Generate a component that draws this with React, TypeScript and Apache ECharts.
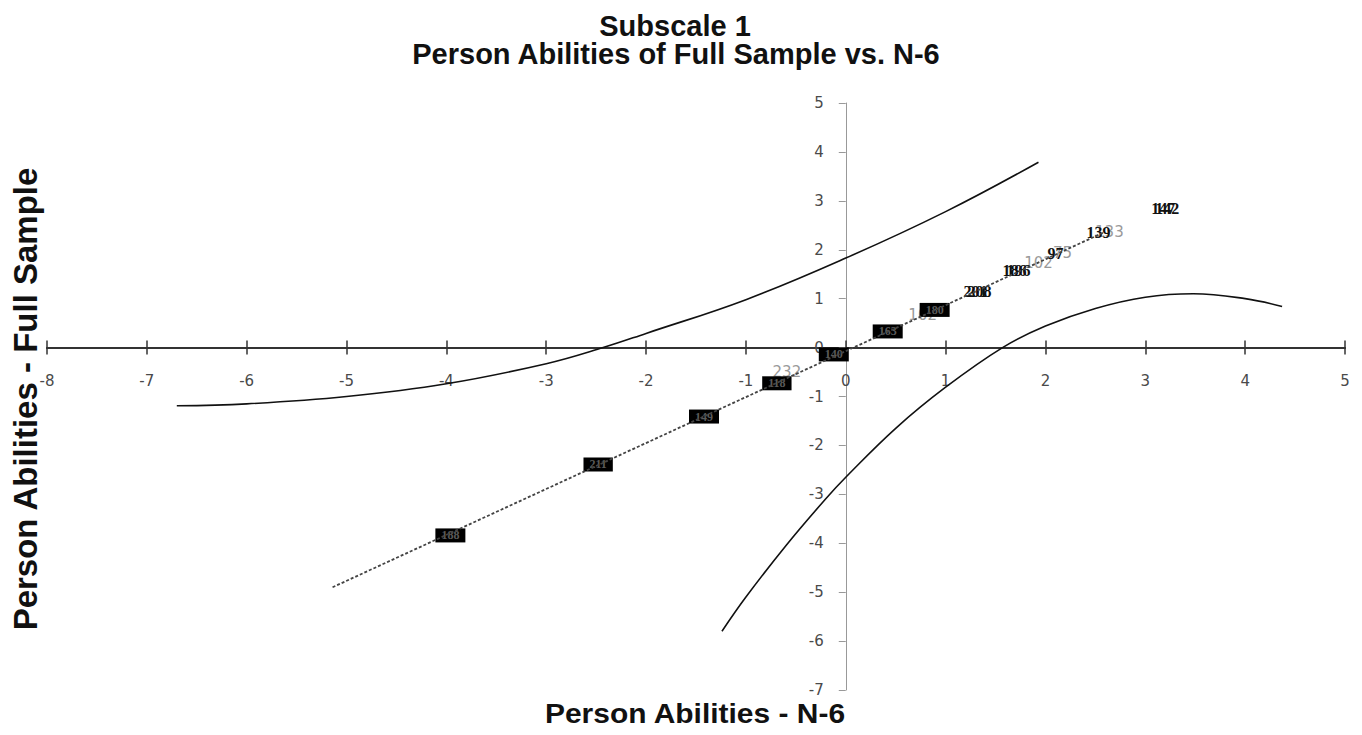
import React, { useEffect, useRef } from "react";
import * as echarts from "echarts";

// Axis ranges
const xMin = -8;
const xMax = 5;
const yMin = -7;
const yMax = 5;

// Upper confidence curve
const upperX = [-6.7, -6, -5, -4, -3, -2.43, -2, -1, 0, 1, 1.93];
const upperY = [-1.19, -1.15, -1.0, -0.74, -0.33, 0, 0.29, 0.98, 1.83, 2.78, 3.79];

// Lower confidence curve
const lowerX = [-1.24, -1, -0.6, -0.2, 0, 0.5, 1, 1.57, 2, 2.5, 3, 3.48, 4, 4.37];
const lowerY = [-5.8, -5.1, -4.05, -3.09, -2.65, -1.65, -0.81, 0, 0.44, 0.8, 1.03, 1.1, 1.0, 0.84];

// Dotted line
const refX = [-5.14, 2.59];
const refY = [-4.9, 2.36];

// Heavily overlapping label clusters (render as dark blobs)
const blobX = [-3.96, -2.48, -1.42, -0.69, -0.12, 0.42, 0.89];
const blobY = [-3.84, -2.39, -1.41, -0.73, -0.14, 0.33, 0.77];
const blobIds = ["188", "211", "149", "118", "140", "163", "180"];

// Bold overlapping labels
const boldX = [1.3, 1.34, 1.69, 1.73, 2.1, 2.53, 3.18, 3.22];
const boldY = [1.15, 1.15, 1.57, 1.57, 1.93, 2.36, 2.85, 2.85];
const boldIds = ["201", "208", "186", "196", "97", "139", "147", "142"];

// Light grey labels
const grayX = [-0.59, 0.77, 1.93, 2.17, 2.64];
const grayY = [-0.49, 0.67, 1.73, 1.93, 2.36];
const grayIds = ["232", "102", "102", "75", "133"];

const zip = (xs: number[], ys: number[]) => xs.map((x, i) => [x, ys[i]]);
const zipLab = (xs: number[], ys: number[], ids: string[]) =>
  xs.map((x, i) => [x, ys[i], ids[i]]);

const W = 1362;
const H = 735;
const G = { left: 47, right: 17, top: 103, bottom: 45 };

export default function App() {
  const ref = useRef<HTMLDivElement>(null);
  useEffect(() => {
    if (!ref.current) return;
    const chart = echarts.init(ref.current, undefined, { renderer: "svg" });
    const gw = W - G.left - G.right;
    const gh = H - G.top - G.bottom;
    const zeroFromLeft = (gw * (0 - xMin)) / (xMax - xMin);
    const zeroFromTop = (gh * (yMax - 0)) / (yMax - yMin);
    const zeroFromBottom = gh - zeroFromTop;

    const tickLabel = {
      color: "#4a4a4a",
      fontSize: 15,
      fontFamily: "DejaVu Sans",
    };
    const hiddenItem = { color: "rgba(0,0,0,0)", opacity: 1 };
    const option: any = {
      animation: false,
      backgroundColor: "#ffffff",
      grid: { ...G, containLabel: false },
      xAxis: [
        {
          type: "value",
          position: "bottom",
          offset: -zeroFromBottom,
          min: xMin,
          max: xMax,
          interval: 1,
          axisLine: { onZero: false, lineStyle: { color: "#333", width: 2 } },
          axisTick: { length: 7, lineStyle: { color: "#333", width: 1.5 } },
          axisLabel: { ...tickLabel, margin: 26 },
          splitLine: { show: false },
        },
        {
          type: "value",
          position: "top",
          offset: -zeroFromTop,
          min: xMin,
          max: xMax,
          interval: 1,
          axisLine: { onZero: false, lineStyle: { color: "#333", width: 2 } },
          axisTick: { length: 7, lineStyle: { color: "#333", width: 1.5 } },
          axisLabel: { show: false },
          splitLine: { show: false },
        },
      ],
      yAxis: {
        type: "value",
        position: "left",
        offset: -zeroFromLeft,
        min: yMin,
        max: yMax,
        interval: 1,
        axisLine: { onZero: false, lineStyle: { color: "#999", width: 1 } },
        axisTick: { length: 7, lineStyle: { color: "#999", width: 1 } },
        axisLabel: { ...tickLabel, margin: 22 },
        splitLine: { show: false },
      },
      series: [
        {
          type: "line",
          data: zip(upperX, upperY),
          smooth: 0.4,
          symbol: "none",
          silent: true,
          lineStyle: { color: "#111", width: 1.6 },
        },
        {
          type: "line",
          data: zip(lowerX, lowerY),
          smooth: 0.4,
          symbol: "none",
          silent: true,
          lineStyle: { color: "#111", width: 1.6 },
        },
        {
          type: "line",
          data: zip(refX, refY),
          symbol: "none",
          silent: true,
          lineStyle: { color: "#444", width: 1.8, type: [3, 2] },
        },
        {
          type: "scatter",
          data: zipLab(grayX, grayY, grayIds),
          symbolSize: 1,
          silent: true,
          itemStyle: hiddenItem,
          label: {
            show: true,
            position: "inside",
            formatter: (p: any) => p.value[2],
            color: "#9a9a9a",
            fontSize: 15,
            fontFamily: "DejaVu Sans",
          },
        },
        {
          type: "scatter",
          data: zipLab(blobX, blobY, blobIds),
          symbolSize: 1,
          silent: true,
          itemStyle: hiddenItem,
          label: {
            show: true,
            position: "inside",
            formatter: (p: any) => p.value[2],
            color: "#5a5a5a",
            fontSize: 12,
            fontWeight: "bold",
            fontFamily: "Liberation Serif",
            backgroundColor: "#000000",
            padding: [1, 6, 1, 6],
            lineHeight: 12,
          },
        },
        {
          type: "scatter",
          data: zipLab(boldX, boldY, boldIds),
          symbolSize: 1,
          silent: true,
          itemStyle: hiddenItem,
          label: {
            show: true,
            position: "inside",
            formatter: (p: any) => p.value[2],
            color: "#111",
            fontSize: 16,
            fontWeight: "bold",
            fontFamily: "Liberation Serif",
          },
        },
      ],
      graphic: [
        {
          type: "text",
          x: 675,
          y: 26,
          style: {
            text: "Subscale 1",
            font: 'bold 29px "Liberation Sans"',
            fill: "#111",
            textAlign: "center",
            textVerticalAlign: "middle",
          },
        },
        {
          type: "text",
          x: 676,
          y: 54,
          style: {
            text: "Person Abilities of Full Sample vs. N-6",
            font: 'bold 29px "Liberation Sans"',
            fill: "#111",
            textAlign: "center",
            textVerticalAlign: "middle",
          },
        },
        {
          type: "text",
          x: 695,
          y: 713,
          scaleX: 1.07,
          style: {
            text: "Person Abilities - N-6",
            font: 'bold 28px "Liberation Sans"',
            fill: "#111",
            textAlign: "center",
            textVerticalAlign: "middle",
          },
        },
        {
          type: "text",
          x: 25,
          y: 399,
          rotation: Math.PI / 2,
          style: {
            text: "Person Abilities - Full Sample",
            font: 'bold 33px "Liberation Sans"',
            fill: "#111",
            textAlign: "center",
            textVerticalAlign: "middle",
          },
        },
      ],
    };
    chart.setOption(option);
    return () => chart.dispose();
  }, []);
  return (
    <div
      ref={ref}
      style={{ position: "fixed", left: 0, top: 0, width: W, height: H }}
    />
  );
}
